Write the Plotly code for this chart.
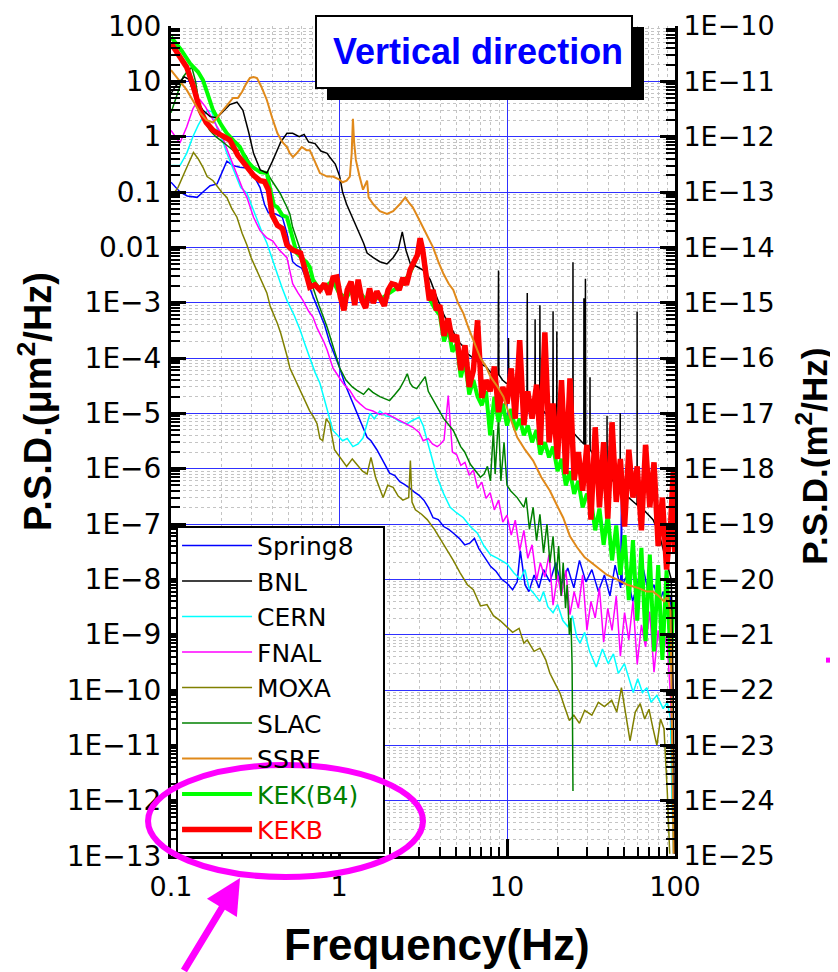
import plotly.graph_objects as go

# ---- data ----
# shared frequency grid for the noisy high-frequency part of KEKB, KEK(B4) and FNAL
f_grid = [3.98, 4.22, 4.47, 4.73, 5.01, 5.31, 5.62, 5.96, 6.31, 6.68, 7.08, 7.5, 7.94, 8.41, 8.91, 9.44,
          10.0, 10.6, 11.2, 11.9, 12.6, 13.3, 14.1, 15.0, 15.8, 16.8, 17.8, 18.8, 20.0, 21.1, 22.4, 23.7,
          25.1, 26.6, 28.2, 29.9, 31.6, 33.5, 35.5, 37.6, 39.8, 42.2, 44.7, 47.3, 50.1, 53.1, 56.2, 59.6,
          63.1, 66.8, 70.8, 75.0, 79.4, 84.1, 89.1, 94.4, 97.7, 99.5]

freq_spring8 = [0.1, 0.113, 0.125, 0.143, 0.155, 0.171, 0.188, 0.204, 0.215, 0.234, 0.257, 0.283, 0.31, 0.339,
                0.36, 0.38, 0.42, 0.46, 0.49, 0.53, 0.56, 0.6, 0.65, 0.7, 0.76, 0.82, 0.88, 0.95, 1.01, 1.08,
                1.15, 1.21, 1.27, 1.33, 1.4, 1.47, 1.55, 1.68, 1.8, 1.9, 2.0, 2.15, 2.3, 2.45, 2.6, 2.8, 3.0,
                3.2, 3.4, 3.63, 3.9, 4.2, 4.5, 4.8, 5.2, 5.6, 6.0, 6.4, 6.8, 7.3, 8.0, 8.6, 9.3, 10.0, 10.8,
                11.5, 12.0, 12.8, 13.5, 14.5, 15.5, 16.5, 18.0, 19.5, 21.0, 23.0, 25.0, 27.0, 29.5, 32.0, 35.0,
                38.0, 41.0, 44.0, 47.5, 48.0, 48.5, 52.0, 56.0, 60.0, 65.0, 70.0, 75.0, 80.0, 85.0, 90.0, 94.0,
                97.0, 99.0]
psd_spring8 = [0.15, 0.1, 0.085, 0.08, 0.1, 0.13, 0.14, 0.25, 0.36, 0.3, 0.28, 0.27, 0.2, 0.12, 0.06, 0.042,
               0.04, 0.035, 0.018, 0.0055, 0.0047, 0.0042, 0.0024, 0.0013, 7e-4, 4e-4, 1.9e-4, 1.1e-4, 6.6e-5,
               3.5e-5, 2.2e-5, 1.5e-5, 1.1e-5, 7.5e-6, 5.5e-6, 3.7e-6, 3.2e-6, 2.2e-6, 1.5e-6, 1.1e-6, 8.3e-7,
               7.5e-7, 5.8e-7, 5.2e-7, 4.6e-7, 3.8e-7, 3.3e-7, 2.7e-7, 2.0e-7, 1.3e-7, 1.2e-7, 9e-8, 8e-8,
               6.8e-8, 5.5e-8, 4.2e-8, 4.5e-8, 5.5e-8, 3.6e-8, 2.6e-8, 1.7e-8, 1.4e-8, 1.0e-8, 8.5e-9, 6.5e-9,
               9e-9, 3.3e-8, 8e-9, 6e-9, 1.2e-8, 7e-9, 1.5e-8, 9e-9, 2e-8, 8e-9, 1.6e-8, 7e-9, 2.2e-8, 9e-9,
               1.5e-8, 6e-9, 1.2e-8, 5e-9, 1.8e-8, 7e-9, 3e-7, 8e-9, 1.2e-8, 4e-9, 9e-9, 1.5e-8, 5e-9, 8e-9,
               3.5e-9, 6e-9, 3e-9, 5e-9, 1e-10, 1.1e-13]

freq_bnl = [0.1, 0.106, 0.113, 0.12, 0.127, 0.135, 0.143, 0.155, 0.171, 0.188, 0.204, 0.224, 0.247, 0.268,
            0.29, 0.31, 0.34, 0.372, 0.4, 0.45, 0.49, 0.53, 0.58, 0.62, 0.66, 0.72, 0.78, 0.85, 0.88, 0.95,
            1.01, 1.05, 1.11, 1.2, 1.28, 1.4, 1.47, 1.6, 1.75, 1.93, 2.1, 2.25, 2.38, 2.5, 2.66, 2.9, 3.2,
            3.49, 3.84, 4.17, 4.5, 4.79, 5.06, 5.5, 5.81, 6.3, 6.9, 7.5, 8.0, 8.6, 8.85, 8.9, 8.95, 9.4, 9.9,
            10.15, 10.2, 10.25, 10.9, 11.6, 12.4, 13.15, 13.2, 13.25, 13.9, 14.65, 14.7, 14.75, 15.2, 15.65,
            15.7, 15.75, 16.5, 17.5, 18.75, 18.8, 18.85, 19.4, 19.75, 19.8, 19.85, 21.0, 22.5, 24.0, 24.65,
            24.7, 24.75, 26.0, 27.5, 28.65, 28.7, 28.75, 29.2, 29.3, 29.4, 30.5, 31.15, 31.2, 31.25, 33.0,
            35.0, 37.0, 39.35, 39.4, 39.45, 42.0, 44.5, 47.15, 47.2, 47.25, 50.0, 54.0, 57.0, 59.45, 59.5,
            59.55, 63.0, 68.0, 74.0, 80.0, 86.0, 91.0, 95.0, 97.5, 99.5]
psd_bnl = [6, 8, 10, 12, 11, 7, 4.5, 3, 2.3, 2.2, 2.8, 3.8, 4.2, 3, 1.2, 0.5, 0.25, 0.22, 0.35, 0.8, 1.15,
           1.15, 1.0, 1.1, 0.8, 0.75, 0.55, 0.5, 0.43, 0.32, 0.19, 0.1, 0.06, 0.035, 0.023, 0.012, 0.0079,
           0.0065, 0.0055, 0.005, 0.0065, 0.009, 0.019, 0.009, 0.005, 0.0045, 0.0038, 0.0026, 0.0012, 6.4e-4,
           4e-4, 3e-4, 2.1e-4, 1.6e-4, 1.2e-4, 1.0e-4, 8e-5, 7e-5, 5.5e-5, 5e-5, 5e-5, 3.8e-3, 5e-5, 4e-5,
           3.5e-5, 3.5e-5, 2.3e-4, 3.5e-5, 3e-5, 2.6e-5, 2.2e-5, 2e-5, 1.5e-3, 2e-5, 1.7e-5, 1.5e-5, 5e-4,
           1.5e-5, 1.4e-5, 1.3e-5, 9e-4, 1.3e-5, 1.1e-5, 9e-6, 8e-6, 7e-4, 8e-6, 7e-6, 7e-6, 3e-4, 7e-6,
           6e-6, 5e-6, 4.5e-6, 4.5e-6, 5.4e-3, 4.5e-6, 3.8e-6, 3.2e-6, 2.8e-6, 1.2e-3, 2.8e-6, 2.7e-6,
           2.7e-3, 2.6e-6, 2.3e-6, 2.2e-6, 4.5e-5, 2.2e-6, 1.7e-6, 1.3e-6, 1e-6, 8e-7, 9e-6, 8e-7, 6.5e-7,
           5e-7, 4.2e-7, 1e-5, 4.2e-7, 3.5e-7, 2.8e-7, 2.4e-7, 2.2e-7, 6.9e-4, 2.2e-7, 2e-7, 1.6e-7, 1.2e-7,
           7e-8, 3e-8, 1.5e-8, 1e-8, 1e-10, 1.1e-13]

freq_cern = [0.1, 0.113, 0.124, 0.135, 0.145, 0.155, 0.165, 0.175, 0.19, 0.204, 0.215, 0.235, 0.26, 0.283,
             0.3, 0.325, 0.35, 0.372, 0.4, 0.428, 0.46, 0.49, 0.54, 0.587, 0.63, 0.671, 0.72, 0.77, 0.85,
             0.92, 0.98, 1.05, 1.12, 1.21, 1.3, 1.39, 1.53, 1.62, 1.75, 1.9, 2.1, 2.3, 2.55, 2.75, 3.0, 3.17,
             3.35, 3.6, 3.84, 4.2, 4.59, 5.0, 5.5, 6.05, 6.67, 7.3, 7.97, 8.8, 10.0, 11.0, 12.0, 12.8, 13.5,
             14.5, 15.7, 16.5, 17.5, 18.8, 20.0, 21.5, 23.0, 24.5, 26.0, 27.2, 29.0, 31.0, 34.0, 37.0, 40.0,
             43.0, 46.0, 50.0, 54.0, 56.4, 60.0, 64.0, 68.0, 72.0, 78.0, 85.0, 90.0, 94.0, 96.0, 98.0]
psd_cern = [0.3, 0.3, 0.5, 1.0, 1.6, 2.3, 3.0, 2.8, 1.3, 0.8, 0.5, 0.25, 0.12, 0.095, 0.06, 0.031, 0.018,
            0.012, 0.006, 0.0034, 0.0018, 0.0011, 6e-4, 3.2e-4, 1.7e-4, 1e-4, 5.5e-5, 3.5e-5, 1.1e-5, 4.9e-6,
            4e-6, 3.2e-6, 3.5e-6, 2.5e-6, 2.8e-6, 3.6e-6, 1e-5, 8e-6, 1.1e-5, 9e-6, 8.5e-6, 7e-6, 6.5e-6,
            7.5e-6, 8.5e-6, 6e-6, 3.2e-6, 1.5e-6, 7e-7, 3.5e-7, 2e-7, 1.6e-7, 1.3e-7, 9e-8, 6.8e-8, 4e-8,
            2.8e-8, 2.4e-8, 1.9e-8, 1.3e-8, 1e-8, 1.5e-8, 7e-9, 5.5e-9, 4e-9, 6e-9, 3.2e-9, 2.5e-9, 3.5e-9,
            1.8e-9, 1.4e-9, 2.2e-9, 9e-10, 7e-10, 1.1e-9, 5e-10, 2.6e-10, 5.5e-10, 3e-10, 4.5e-10, 2e-10,
            3e-10, 1.3e-10, 9e-11, 1.6e-10, 9e-11, 1.1e-10, 6e-11, 8e-11, 4.6e-11, 6e-11, 3e-11, 1e-12, 1.1e-13]

freq_fnal_lo = [0.1, 0.113, 0.124, 0.135, 0.143, 0.149, 0.16, 0.178, 0.2, 0.215, 0.235, 0.25, 0.265, 0.283,
                0.31, 0.339, 0.37, 0.404, 0.44, 0.49, 0.53, 0.57, 0.61, 0.66, 0.7, 0.74, 0.77, 0.81, 0.85,
                0.92, 1.01, 1.08, 1.16, 1.25, 1.33, 1.45, 1.59, 1.75, 1.9, 2.1, 2.3, 2.5, 2.75, 3.0, 3.17,
                3.4, 3.6, 3.84]
psd_fnal_lo = [1.3, 0.77, 1.5, 3.2, 4.3, 4.6, 3.5, 2.0, 1.1, 0.6, 0.3, 0.2, 0.12, 0.08, 0.035, 0.02, 0.015,
               0.013, 0.009, 0.0065, 0.0022, 0.0015, 0.0011, 7e-4, 5.5e-4, 3.5e-4, 2.8e-4, 2e-4, 1.4e-4,
               6.6e-5, 4.3e-5, 3.2e-5, 2.6e-5, 1.8e-5, 1.5e-5, 1.2e-5, 1.1e-5, 9.5e-6, 1e-5, 8.5e-6, 7.5e-6,
               6.5e-6, 5.6e-6, 4.5e-6, 3.2e-6, 3.5e-6, 2.8e-6, 2.5e-6]
psd_fnal_hf = [2.7e-6, 3.3e-6, 2.1e-5, 2e-6, 1.8e-6, 1.15e-6, 1.3e-6, 7.6e-7, 9.4e-7, 4.4e-7, 5.7e-7, 2.9e-7,
               3.7e-7, 1.8e-7, 2.7e-7, 1.08e-7, 1.45e-7, 6.3e-8, 1.17e-7, 3.3e-8, 7.7e-8, 2.4e-8, 4.2e-8,
               9.6e-9, 2.0e-8, 1.1e-8, 2.8e-8, 3.4e-9, 1.2e-8, 5e-9, 1.45e-8, 2.3e-9, 6e-9, 3e-9, 1.2e-8,
               1.2e-9, 4e-9, 2e-9, 7e-9, 7.3e-10, 3e-9, 1.2e-9, 5e-9, 4.1e-10, 2.5e-9, 8e-10, 4e-9, 2.9e-10,
               1.5e-9, 6e-10, 2.6e-9, 2.1e-10, 1.2e-9, 3.5e-10, 1e-9, 6.5e-11, 2.3e-12, 1.1e-13]

freq_moxa = [0.1, 0.11, 0.12, 0.13, 0.136, 0.145, 0.155, 0.164, 0.178, 0.2, 0.215, 0.23, 0.247, 0.265, 0.283,
             0.3, 0.325, 0.35, 0.372, 0.39, 0.41, 0.43, 0.45, 0.47, 0.49, 0.51, 0.55, 0.59, 0.63, 0.67, 0.7,
             0.74, 0.77, 0.8, 0.84, 0.88, 0.94, 1.01, 1.11, 1.2, 1.28, 1.38, 1.47, 1.55, 1.65, 1.83, 1.95,
             2.1, 2.25, 2.4, 2.6, 2.66, 2.72, 2.85, 3.1, 3.35, 3.7, 4.0, 4.4, 4.79, 5.27, 5.81, 6.3, 6.95,
             7.6, 8.3, 9.1, 10.0, 10.8, 11.8, 12.6, 13.2, 14.5, 15.7, 17.0, 18.0, 19.5, 20.7, 22.0, 23.5,
             25.0, 27.0, 29.0, 32.0, 35.0, 38.0, 42.0, 45.0, 48.0, 50.0, 54.0, 58.0, 62.0, 66.0, 70.0, 74.0,
             78.0, 82.0, 86.0, 90.0, 93.0]
psd_moxa = [0.08, 0.12, 0.22, 0.4, 0.52, 0.4, 0.28, 0.19, 0.16, 0.1, 0.08, 0.05, 0.035, 0.018, 0.011, 0.0065,
            0.0038, 0.0022, 0.0015, 8.5e-4, 6e-4, 4.2e-4, 2.8e-4, 1.8e-4, 1.1e-4, 6.6e-5, 4e-5, 2.6e-5,
            1.6e-5, 1.1e-5, 9e-6, 6.5e-6, 3.5e-6, 3.2e-6, 8e-6, 6.5e-6, 2.2e-6, 1.6e-6, 1.1e-6, 1.5e-6,
            1.2e-6, 9e-7, 8e-7, 1.6e-6, 7e-7, 3e-7, 5e-7, 4.6e-7, 3.2e-7, 2.7e-7, 3e-7, 1.4e-6, 2.5e-7,
            1.8e-7, 1.5e-7, 1.2e-7, 8e-8, 5.5e-8, 3.5e-8, 2.2e-8, 1.3e-8, 8e-9, 6.5e-9, 3.3e-9, 3.5e-9,
            2.2e-9, 1.8e-9, 1.4e-9, 1.1e-9, 1.3e-9, 7e-10, 8e-10, 5e-10, 5.7e-10, 3.5e-10, 2e-10, 1.2e-10,
            8.7e-11, 5e-11, 2.8e-11, 3.5e-11, 2.5e-11, 4.3e-11, 3.5e-11, 6e-11, 5e-11, 6.5e-11, 4e-11,
            1.1e-10, 5e-11, 1.2e-11, 4e-11, 5.7e-11, 3e-11, 4.5e-11, 2e-11, 1e-11, 3e-11, 2e-11, 1.4e-12,
            1.1e-13]

freq_slac = [0.1, 0.106, 0.113, 0.118, 0.125, 0.133, 0.14, 0.149, 0.16, 0.17, 0.185, 0.196, 0.215, 0.234,
             0.26, 0.28, 0.3, 0.325, 0.35, 0.372, 0.41, 0.446, 0.49, 0.51, 0.53, 0.56, 0.59, 0.64, 0.7, 0.76,
             0.85, 0.92, 1.01, 1.1, 1.2, 1.28, 1.4, 1.5, 1.59, 1.75, 1.9, 2.0, 2.15, 2.3, 2.45, 2.55, 2.65,
             2.75, 2.9, 3.05, 3.26, 3.4, 3.6, 3.84, 4.2, 4.79, 5.3, 5.6, 6.05, 6.5, 6.95, 7.3, 7.65, 7.97,
             8.3, 8.5, 8.9, 9.2, 9.6, 10.0, 10.5, 11.5, 12.6, 13.0, 13.6, 14.3, 15.0, 15.7, 16.5, 17.3, 18.0,
             18.8, 19.6, 20.3, 21.0, 21.6, 22.3, 22.8, 23.5, 24.0, 24.4, 24.7]
psd_slac = [2.7, 4.5, 8, 12, 15, 18, 10, 3, 1.8, 1.3, 1.0, 0.88, 0.7, 0.57, 0.57, 0.45, 0.3, 0.25, 0.22, 0.22,
            0.14, 0.095, 0.053, 0.04, 0.023, 0.014, 0.009, 0.0045, 0.0019, 9e-4, 3.6e-4, 1.6e-4, 6.6e-5,
            4e-5, 3e-5, 2.6e-5, 2.2e-5, 2.8e-5, 2.4e-5, 2e-5, 1.8e-5, 1.7e-5, 2.2e-5, 2.8e-5, 4e-5, 5.2e-5,
            3.5e-5, 3e-5, 2.8e-5, 3.5e-5, 4.6e-5, 2.5e-5, 1.8e-5, 1.3e-5, 8e-6, 4.9e-6, 2.5e-6, 2e-6,
            1.2e-6, 9e-7, 7e-7, 8e-7, 1.1e-6, 6e-7, 5e-6, 8e-7, 8.5e-6, 6e-7, 3e-6, 5e-7, 4e-7, 3e-7, 2e-7,
            3e-7, 8e-8, 2e-7, 5e-8, 1.5e-7, 3e-8, 1e-7, 2e-8, 6e-8, 1e-8, 4e-8, 5e-9, 2e-8, 3e-9, 8e-9, 1e-9,
            2e-9, 3e-10, 1.5e-12]

freq_ssrf = [0.1, 0.11, 0.124, 0.135, 0.149, 0.162, 0.178, 0.19, 0.204, 0.22, 0.234, 0.25, 0.265, 0.28, 0.295,
             0.31, 0.325, 0.345, 0.372, 0.4, 0.43, 0.46, 0.49, 0.51, 0.532, 0.56, 0.6, 0.64, 0.67, 0.72, 0.77,
             0.85, 0.92, 1.0, 1.05, 1.11, 1.16, 1.19, 1.21, 1.23, 1.26, 1.32, 1.39, 1.47, 1.5, 1.6, 1.75,
             1.93, 2.1, 2.3, 2.48, 2.6, 2.75, 2.95, 3.17, 3.4, 3.63, 3.9, 4.17, 4.5, 4.79, 5.1, 5.5, 5.9,
             6.31, 6.95, 7.5, 7.97, 8.8, 9.52, 10.5, 11.5, 12.8, 14.3, 16.0, 18.0, 19.8, 21.6, 23.7, 26.1,
             29.0, 32.5, 36.0, 39.4, 45.0, 52.0, 60.0, 68.0, 74.0, 80.0, 86.0, 90.0, 94.0, 96.0, 98.0]
psd_ssrf = [16, 11, 7, 4.5, 2.7, 2.0, 1.8, 2.3, 3, 4, 5, 5, 6.5, 9, 11.5, 12, 11.5, 8, 4.6, 2.2, 1.15, 0.8,
            0.65, 0.5, 0.43, 0.5, 0.65, 0.57, 0.57, 0.35, 0.22, 0.19, 0.19, 0.17, 0.15, 0.16, 0.19, 0.5, 2.1,
            0.8, 0.38, 0.2, 0.11, 0.16, 0.08, 0.06, 0.045, 0.04, 0.045, 0.06, 0.08, 0.065, 0.053, 0.035,
            0.023, 0.015, 0.01, 0.0055, 0.0034, 0.0022, 0.0017, 0.001, 6.4e-4, 3.5e-4, 2.1e-4, 1e-4, 7e-5,
            4.6e-5, 3e-5, 2e-5, 8e-6, 3.7e-6, 2.2e-6, 1.4e-6, 7e-7, 4e-7, 2.2e-7, 1.3e-7, 6e-8, 3.8e-8,
            2.5e-8, 1.9e-8, 1.5e-8, 1.2e-8, 1e-8, 8e-9, 7e-9, 6e-9, 6e-9, 5e-9, 4e-9, 5e-9, 2.7e-9, 2e-11,
            1.1e-13]

freq_kekb4_lo = [0.1, 0.115, 0.13, 0.145, 0.155, 0.165, 0.178, 0.2, 0.215, 0.24, 0.257, 0.28, 0.307, 0.34,
                 0.372, 0.39, 0.41, 0.43, 0.46, 0.49, 0.53, 0.56, 0.6, 0.64, 0.67, 0.7, 0.75, 0.82, 0.92, 1.0,
                 1.1, 1.2, 1.3, 1.45, 1.6, 1.8, 2.0, 2.2, 2.4, 2.65, 2.9, 3.05, 3.2, 3.45, 3.7]
psd_kekb4_lo = [63, 37, 21, 14.7, 10.5, 5.6, 3, 1.6, 1.15, 0.8, 0.65, 0.38, 0.28, 0.23, 0.22, 0.11, 0.058,
                0.053, 0.038, 0.035, 0.0135, 0.0079, 0.0064, 0.0054, 0.0044, 0.0026, 0.0019, 0.0019, 0.0025,
                0.0015, 0.0012, 0.0018, 0.0017, 0.0011, 0.0012, 0.0012, 0.0015, 0.0018, 0.0022, 0.0035,
                0.0065, 0.012, 0.007, 0.0012, 0.0008]
psd_kekb4_hf = [6e-4, 2e-4, 3.5e-4, 1.3e-4, 1.8e-4, 4.5e-5, 9e-5, 2.2e-5, 4e-5, 2e-5, 1.4e-5, 2.5e-5, 4e-6,
                2e-5, 7e-6, 1.5e-5, 6e-6, 1.2e-5, 5e-6, 8e-6, 4e-6, 6e-6, 3e-6, 5e-6, 1.8e-6, 3e-6, 1.6e-6,
                2.5e-6, 9e-7, 1.5e-6, 5e-7, 9e-7, 3.5e-7, 6e-7, 2e-7, 3.5e-7, 2.7e-7, 7.7e-8, 1.9e-7, 4.2e-8,
                1.45e-7, 2.2e-8, 9.4e-8, 1.2e-8, 6.3e-8, 4.2e-9, 5.1e-8, 1.8e-9, 3.7e-8, 7.6e-10, 2.8e-8,
                5e-10, 1.8e-8, 3.5e-10, 1.45e-8, 2.9e-10, 4.2e-9, 2.8e-9]

freq_kekb_lo = [0.1, 0.11, 0.124, 0.135, 0.149, 0.162, 0.178, 0.2, 0.224, 0.25, 0.283, 0.31, 0.339, 0.36,
                0.38, 0.4, 0.43, 0.46, 0.49, 0.53, 0.59, 0.63, 0.67, 0.72, 0.77, 0.82, 0.87, 0.92, 0.97, 1.02,
                1.07, 1.12, 1.18, 1.24, 1.3, 1.37, 1.44, 1.52, 1.6, 1.68, 1.77, 1.86, 1.96, 2.06, 2.17, 2.28,
                2.4, 2.52, 2.65, 2.79, 2.93, 3.04, 3.15, 3.3, 3.45, 3.63, 3.8]
psd_kekb_lo = [49, 30, 18, 8.6, 3, 1.8, 1.3, 1.05, 0.87, 0.46, 0.28, 0.2, 0.16, 0.155, 0.11, 0.038, 0.025,
               0.022, 0.011, 0.0089, 0.0079, 0.0039, 0.0019, 0.0021, 0.0017, 0.0022, 0.0014, 0.0028, 0.0029,
               0.00126, 0.00073, 0.0017, 0.0024, 0.0009, 0.0026, 0.0011, 0.0008, 0.0018, 0.00098, 0.0016,
               0.0011, 0.00088, 0.0017, 0.0022, 0.0021, 0.0017, 0.0028, 0.0021, 0.0039, 0.0054, 0.0073,
               0.0146, 0.0089, 0.0031, 0.0011, 0.0017, 0.00073]
psd_kekb_hf = [9e-4, 2.5e-4, 5.2e-4, 2e-4, 2.6e-4, 6e-5, 1.7e-4, 3e-5, 6e-5, 4.8e-4, 1.9e-5, 4e-5, 2.5e-5,
               7e-5, 1.05e-5, 3e-5, 1.5e-5, 6.5e-5, 8e-6, 2.1e-4, 6.1e-6, 2.5e-5, 8e-6, 3.3e-5, 2.7e-6, 2.9e-4,
               3e-6, 1.5e-5, 1.5e-6, 4e-5, 8e-7, 4.3e-5, 6.2e-7, 2e-6, 4e-7, 2.7e-6, 1.2e-7, 5.6e-6, 2e-7,
               3e-6, 1.25e-7, 6.9e-6, 2.5e-7, 1.5e-6, 9e-8, 2.2e-6, 3e-7, 1.1e-6, 7.7e-8, 2.7e-6, 2e-7,
               1.3e-6, 4e-8, 3e-7, 1.5e-8, 1.17e-7, 9.4e-7, 3e-8]

x_tick_vals = [0.1, 1, 10, 100]
x_tick_text = ['0.1', '1', '10', '100']
y_tick_vals = [10.0 ** k for k in range(2, -14, -1)]
y_tick_text = ['100', '10', '1', '0.1', '0.01', '1E\u22123', '1E\u22124', '1E\u22125', '1E\u22126', '1E\u22127',
               '1E\u22128', '1E\u22129', '1E\u221210', '1E\u221211', '1E\u221212', '1E\u221213']
y2_tick_vals = [10.0 ** k for k in range(-10, -26, -1)]
y2_tick_text = ['1E\u2212%d' % k for k in range(10, 26)]

# name, x, y, line colour, width, legend rank (drawing order = list order)
series = [
    ('Spring8', freq_spring8, psd_spring8, '#0000ff', 1.5, 1),
    ('CERN', freq_cern, psd_cern, '#00ffff', 1.5, 3),
    ('FNAL', freq_fnal_lo + f_grid, psd_fnal_lo + psd_fnal_hf, '#ff00ff', 1.5, 4),
    ('MOXA', freq_moxa, psd_moxa, '#808000', 1.5, 5),
    ('SLAC', freq_slac, psd_slac, '#008000', 1.5, 6),
    ('<span style="color:#008000">KEK(B4)</span>', freq_kekb4_lo + f_grid, psd_kekb4_lo + psd_kekb4_hf,
     '#00ff00', 4, 8),
    ('BNL', freq_bnl, psd_bnl, '#000000', 1.5, 2),
    ('<span style="color:#ff0000">KEKB</span>', freq_kekb_lo + f_grid, psd_kekb_lo + psd_kekb_hf,
     '#ff0000', 5.5, 9),
    ('SSRF', freq_ssrf, psd_ssrf, '#e0891a', 2, 7),
]

fig = go.Figure()
for name, fx, fy, color, width, rank in series:
    fig.add_trace(go.Scatter(x=fx, y=fy, mode='lines', name=name, legendrank=rank,
                             line=dict(color=color, width=width)))
# empty trace so that the right-hand (m^2/Hz) axis gets drawn
fig.add_trace(go.Scatter(x=[], y=[], yaxis='y2', showlegend=False, hoverinfo='skip'))

minor_grid = dict(dtick='D1', ticks='inside', ticklen=9, tickwidth=2, tickcolor='black',
                  showgrid=True, gridcolor='#c4c4c4', griddash='dot', gridwidth=1)

# the page puts the figure 8px in from the top-left corner, so the figure is 8px smaller
fig.update_layout(
    width=830, height=964,
    margin=dict(l=163, r=163, t=18, b=116),
    paper_bgcolor='white', plot_bgcolor='white',
    font=dict(family='DejaVu Sans', size=27, color='black'),
    legend=dict(x=0.012, y=0.004, xanchor='left', yanchor='bottom', bgcolor='rgba(0,0,0,0)',
                borderwidth=0, font=dict(family='DejaVu Sans', size=25, color='black'),
                itemwidth=70, tracegroupgap=0, traceorder='normal'),
    xaxis=dict(type='log', range=[-1, 2], tickmode='array', tickvals=x_tick_vals, ticktext=x_tick_text,
               ticks='inside', ticklen=17, tickwidth=3, tickcolor='black', automargin=False,
               showline=True, linecolor='black', linewidth=3, mirror=False,
               showgrid=True, gridcolor='#3030ff', gridwidth=1, zeroline=False,
               minor=minor_grid, tickfont=dict(size=27), ticklabelstandoff=5),
    yaxis=dict(type='log', range=[-13, 2], tickmode='array', tickvals=y_tick_vals, ticktext=y_tick_text,
               ticks='inside', ticklen=15, tickwidth=3, tickcolor='black', automargin=False,
               showline=True, linecolor='black', linewidth=3, mirror=False,
               showgrid=True, gridcolor='#3030ff', gridwidth=1, zeroline=False,
               minor=minor_grid, tickfont=dict(size=28), ticklabelstandoff=1),
    yaxis2=dict(type='log', range=[-25, -10], overlaying='y', side='right', anchor='x',
                tickmode='array', tickvals=y2_tick_vals, ticktext=y2_tick_text, automargin=False,
                ticks='inside', ticklen=15, tickwidth=3, tickcolor='black',
                showline=True, linecolor='black', linewidth=3, showgrid=False, zeroline=False,
                minor=dict(dtick='D1', ticks='inside', ticklen=9, tickwidth=2, tickcolor='black', showgrid=False),
                tickfont=dict(size=27), ticklabelstandoff=0),
)

# legend frame, title box with drop shadow, magenta marks
fig.add_shape(type='rect', xref='paper', yref='paper', x0=0.0119, x1=0.4226, y0=0.0036, y1=0.3964,
              fillcolor='white', line=dict(color='black', width=2), layer='above')
fig.add_shape(type='rect', xref='paper', yref='paper', x0=0.3095, x1=0.9385, y0=0.9108, y1=0.9988,
              fillcolor='black', line=dict(width=0), layer='above')
fig.add_shape(type='rect', xref='paper', yref='paper', x0=0.2877, x1=0.9147, y0=0.9253, y1=1.012,
              fillcolor='white', line=dict(color='black', width=2), layer='above')
fig.add_shape(type='circle', xref='paper', yref='paper', x0=-0.0456, x1=0.5, y0=-0.0253, y1=0.1096,
              line=dict(color='#ff00ff', width=6), layer='above')
fig.add_shape(type='line', xref='paper', yref='paper', x0=1.2996, x1=1.3234, y0=0.236, y1=0.236,
              line=dict(color='#ff00ff', width=5), layer='above')

center = dict(xref='paper', yref='paper', xanchor='center', yanchor='middle', showarrow=False)
fig.add_annotation(text='<b>Vertical direction</b>', x=0.61, y=0.9687,
                   font=dict(family='Liberation Sans', size=36, color='#0000ff'), **center)
fig.add_annotation(text='<b>Frequency(Hz)</b>', x=0.528, y=-0.107,
                   font=dict(family='Liberation Sans', size=44, color='black'), **center)
fig.add_annotation(text='<b>P.S.D.(\u03bcm<sup>2</sup>/Hz)</b>', x=-0.27, y=0.548, textangle=-90,
                   font=dict(family='Liberation Sans', size=38, color='black'), **center)
fig.add_annotation(text='<b>P.S.D.(m<sup>2</sup>/Hz)</b>', x=1.272, y=0.481, textangle=-90,
                   font=dict(family='Liberation Sans', size=35, color='black'), **center)
fig.add_annotation(text='', xref='paper', yref='paper', x=0.137, y=-0.0265, ax=-57, ay=94,
                   showarrow=True, arrowhead=2, arrowsize=1, arrowwidth=7, arrowcolor='#ff00ff')

fig.write_html("out.html")
